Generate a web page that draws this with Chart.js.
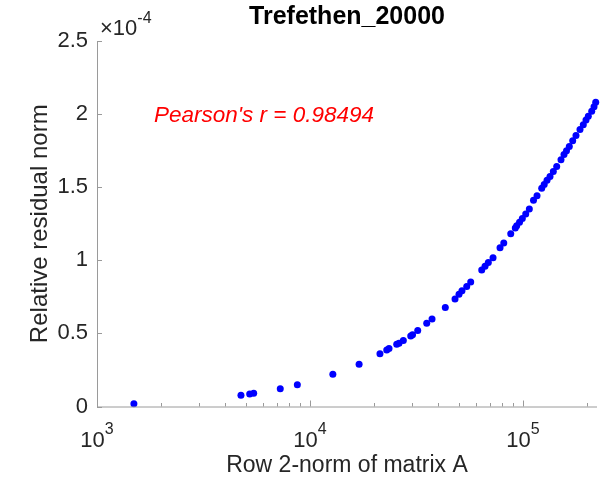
<!DOCTYPE html>
<html>
<head>
<meta charset="utf-8">
<script src="https://cdn.jsdelivr.net/npm/chart.js@4.4.1/dist/chart.umd.min.js"></script>
<style>
  html, body { margin: 0; padding: 0; background: #fff; }
  #wrap { width: 613px; height: 481px; }
</style>
</head>
<body>
<div id="wrap"><canvas id="c" width="613" height="481"></canvas></div>
<script>
const TITLE = "Trefethen_20000";
const X_LABEL = "Row 2-norm of matrix A";
const Y_LABEL = "Relative residual norm";
const NOTE = "Pearson's r = 0.98494";
const NOTE_AT = [1850, 1.99];          // x (row norm), y (×1e-4)
const Y_EXP = "-4";                    // y values are shown in units of 1e-4
const xDecades = [3, 4, 5];            // labelled powers of ten on x
const yTicks = [0, 0.5, 1, 1.5, 2, 2.5];
const X_MIN = 1000, X_MAX = 222500;

// row 2-norm of A
const rowNorm = [1490, 4740, 5210, 5440, 7250, 8720, 12800, 17000, 21300, 22920,
  23490, 25530, 26170, 27420, 29710, 30290, 32040, 35310, 37400, 43170,
  47950, 50060, 51700, 54420, 56810, 64000, 66320, 68730, 72320, 78000,
  81210, 87580, 91990, 93400, 96290, 99250, 102970, 107060, 112000, 116350,
  122390, 125730, 129610, 133880, 138740, 143920, 150770, 155750, 160010, 164930,
  171080, 177290, 185130, 191850, 197560, 202550, 210130, 215440, 219450];
// relative residual norm, ×1e-4
const residual = [0.018, 0.077, 0.086, 0.090, 0.122, 0.149, 0.221, 0.289, 0.360, 0.387,
  0.396, 0.426, 0.433, 0.451, 0.483, 0.490, 0.519, 0.570, 0.599, 0.677,
  0.736, 0.768, 0.791, 0.821, 0.851, 0.933, 0.959, 0.985, 1.017, 1.086,
  1.118, 1.182, 1.221, 1.236, 1.260, 1.286, 1.316, 1.351, 1.410, 1.442,
  1.492, 1.518, 1.548, 1.574, 1.608, 1.642, 1.688, 1.723, 1.750, 1.779,
  1.818, 1.853, 1.894, 1.928, 1.959, 1.985, 2.019, 2.051, 2.081];

const FONT = "'Liberation Sans', Arial, Helvetica, sans-serif";
const TEXT = "#262626";
const AXIS = "#9a9a9a";

// MATLAB-style axes: inward ticks, superscript decade labels, exponent, title, note
const matlabAxes = {
  id: "matlabAxes",
  afterDraw(chart) {
    const { ctx, chartArea: a, scales: { x, y } } = chart;
    ctx.save();
    ctx.strokeStyle = AXIS;
    ctx.lineWidth = 1;
    ctx.beginPath();
    ctx.moveTo(a.left + 0.5, a.top);
    ctx.lineTo(a.left + 0.5, a.bottom + 0.5);
    ctx.lineTo(a.right, a.bottom + 0.5);
    for (const v of yTicks) {
      const py = Math.round(y.getPixelForValue(v)) + 0.5;
      ctx.moveTo(a.left, py);
      ctx.lineTo(a.left + 5, py);
    }
    for (let e = 3; e <= 5; e++) {
      for (let m = 1; m <= 9; m++) {
        const v = m * 10 ** e;
        if (v < X_MIN || v > X_MAX) continue;
        const px = Math.round(x.getPixelForValue(v)) + 0.5;
        ctx.moveTo(px, a.bottom);
        ctx.lineTo(px, a.bottom - (m === 1 ? 6 : 3.5));
      }
    }
    ctx.stroke();

    // decade labels 10^n
    ctx.fillStyle = TEXT;
    ctx.textBaseline = "alphabetic";
    for (const e of xDecades) {
      const px = x.getPixelForValue(10 ** e);
      ctx.font = `22px ${FONT}`;
      const wb = ctx.measureText("10").width;
      ctx.font = `16px ${FONT}`;
      const we = ctx.measureText(String(e)).width;
      const x0 = px - (wb + we) / 2;
      ctx.font = `22px ${FONT}`;
      ctx.textAlign = "left";
      ctx.fillText("10", x0, a.bottom + 40);
      ctx.font = `16px ${FONT}`;
      ctx.fillText(String(e), x0 + wb, a.bottom + 27);
    }

    // y exponent ×10^-4
    ctx.font = `22px ${FONT}`;
    const wx = ctx.measureText("\u00d710").width;
    ctx.fillText("\u00d710", a.left + 3, a.top - 6);
    ctx.font = `16px ${FONT}`;
    ctx.fillText(Y_EXP, a.left + 3 + wx, a.top - 18);

    // title
    ctx.font = `bold 25px ${FONT}`;
    ctx.textAlign = "center";
    ctx.fillStyle = "#000";
    ctx.fillText(TITLE, (a.left + a.right) / 2, 24);

    // correlation note
    ctx.font = `italic 22.5px ${FONT}`;
    ctx.textAlign = "left";
    ctx.textBaseline = "middle";
    ctx.fillStyle = "#ff0000";
    ctx.fillText(NOTE, x.getPixelForValue(NOTE_AT[0]), y.getPixelForValue(NOTE_AT[1]));
    ctx.restore();
  },
};

new Chart(document.getElementById("c"), {
  type: "scatter",
  data: {
    datasets: [{
      data: rowNorm.map((v, i) => ({ x: v, y: residual[i] })),
      backgroundColor: "#0000ff",
      borderWidth: 0,
      pointRadius: 3.5,
      pointHoverRadius: 3.5,
      clip: false,
    }],
  },
  options: {
    responsive: false,
    animation: false,
    layout: { padding: { top: 41, right: 16, bottom: 0, left: 0 } },
    plugins: { legend: { display: false }, tooltip: { enabled: false } },
    scales: {
      x: {
        type: "logarithmic",
        min: X_MIN, max: X_MAX,
        grid: { display: false },
        border: { display: false },
        ticks: { display: false },
        title: {
          display: true, text: X_LABEL, color: TEXT,
          font: { family: FONT, size: 23 }, padding: { top: 0, bottom: 2 },
        },
        afterFit(s) { s.height = 74.5; },
      },
      y: {
        min: 0, max: 2.5,
        grid: { display: false, drawTicks: false },
        border: { display: false },
        afterBuildTicks(s) { s.ticks = yTicks.map((v) => ({ value: v })); },
        ticks: {
          color: TEXT, padding: 9,
          font: { family: FONT, size: 22 },
          callback: (v) => String(v),
        },
        title: {
          display: true, text: Y_LABEL, color: TEXT,
          font: { family: FONT, size: 24 }, padding: { top: 26, bottom: 0 },
        },
        afterFit(s) { s.width = 97; },
      },
    },
  },
  plugins: [matlabAxes],
});
</script>
</body>
</html>
